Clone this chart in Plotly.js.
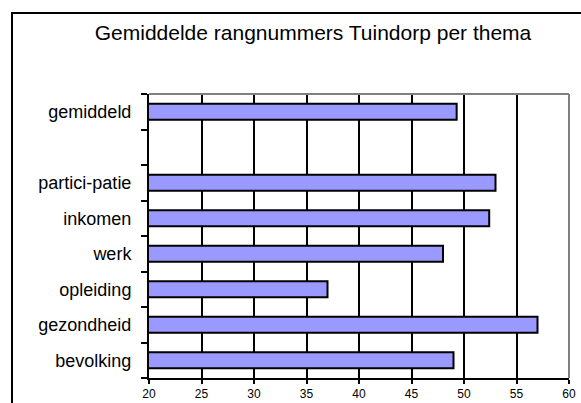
<!DOCTYPE html>
<html>
<head>
<meta charset="utf-8">
<script src="https://cdn.plot.ly/plotly-3.0.1.min.js"></script>
<style>
  html, body { margin: 0; padding: 0; background: #fff; overflow: hidden; }
  #wrap { position: relative; width: 581px; height: 403px; overflow: hidden; }
  #chart { position: absolute; left: 0; top: 0; width: 581px; height: 403px; }
  #frame { position: absolute; left: 11px; top: 12px; width: 640px; height: 440px;
           border: 2px solid #000; box-sizing: border-box; pointer-events: none; }
</style>
</head>
<body>
<div id="wrap">
  <div id="chart"></div>
  <div id="frame"></div>
</div>
<script>
const categories = ["bevolking", "gezondheid", "opleiding", "werk", "inkomen", "partici-patie", " ", "gemiddeld"];
const values = [49.0, 57.0, 37.0, 48.0, 52.4, 53.0, null, 49.3];
const xTicks = [20, 25, 30, 35, 40, 45, 50, 55, 60];
const titleText = "Gemiddelde rangnummers Tuindorp per thema";

const trace = {
  type: "bar",
  orientation: "h",
  y: categories,
  x: values,
  marker: { color: "#9999FF", line: { color: "#000000", width: 2 } },
  hoverinfo: "none"
};

const layout = {
  width: 581,
  height: 403,
  margin: { l: 149, r: 12, t: 94, b: 25, pad: 0 },
  paper_bgcolor: "#ffffff",
  plot_bgcolor: "#ffffff",
  showlegend: false,
  bargap: 0.55,
  font: { family: "Liberation Sans, Arial, sans-serif", color: "#000" },
  title: {
    text: titleText,
    font: { family: "Liberation Sans, Arial, sans-serif", size: 21, color: "#000" },
    x: 313 / 581, xanchor: "center", xref: "container",
    y: 1 - 33 / 403, yanchor: "middle", yref: "container"
  },
  xaxis: {
    range: [20, 60],
    tickvals: xTicks,
    ticktext: xTicks.map(String),
    showgrid: true,
    gridcolor: "#000000",
    gridwidth: 2,
    zeroline: false,
    showline: true,
    linecolor: "#000000",
    linewidth: 2,
    ticks: "outside",
    ticklen: 4,
    tickwidth: 2,
    tickcolor: "#000",
    tickfont: { size: 12, color: "#000" },
    fixedrange: true
  },
  yaxis: {
    type: "category",
    categoryorder: "array",
    categoryarray: categories,
    tickson: "boundaries",
    ticks: "outside",
    ticklen: 6,
    tickwidth: 2,
    tickcolor: "#000",
    showgrid: false,
    zeroline: false,
    showline: true,
    linecolor: "#000000",
    linewidth: 2,
    tickfont: { size: 18, color: "#000" },
    ticklabelstandoff: 12,
    fixedrange: true
  },
  shapes: [
    { type: "line", xref: "paper", yref: "paper", x0: 0, x1: 1, y0: 1, y1: 1,
      line: { color: "#808080", width: 2 }, layer: "above" },
    { type: "line", xref: "paper", yref: "paper", x0: 1, x1: 1, y0: 0, y1: 1,
      line: { color: "#808080", width: 2 }, layer: "above" }
  ]
};

Plotly.newPlot("chart", [trace], layout, { displayModeBar: false, staticPlot: true });
</script>
</body>
</html>
